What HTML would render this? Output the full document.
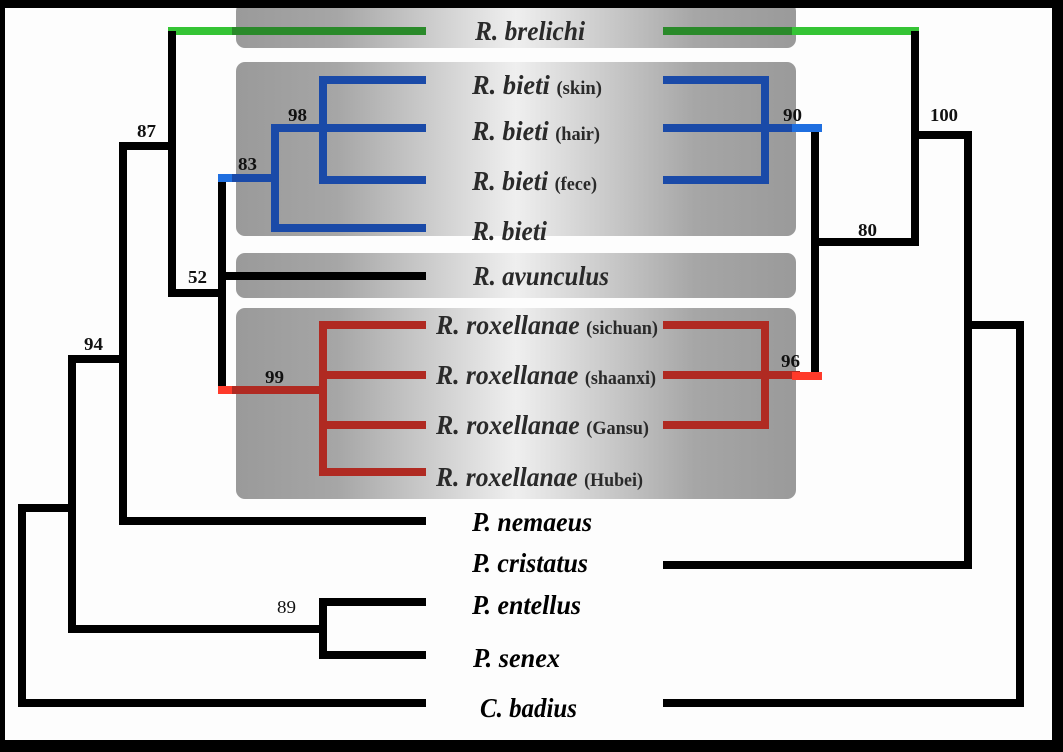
<!DOCTYPE html>
<html><head><meta charset="utf-8"><style>html,body{margin:0;padding:0;background:#000}svg{display:block}</style></head>
<body>
<svg width="1063" height="752" viewBox="0 0 1063 752" xmlns="http://www.w3.org/2000/svg">
<defs>
<linearGradient id="g" x1="236" x2="796" y1="0" y2="0" gradientUnits="userSpaceOnUse">
<stop offset="0" stop-color="#9a9a9a"/><stop offset="0.18" stop-color="#a6a6a6"/><stop offset="0.5" stop-color="#efefef"/><stop offset="0.82" stop-color="#a6a6a6"/><stop offset="1" stop-color="#9a9a9a"/>
</linearGradient>
</defs>
<rect x="5" y="8" width="1047" height="732" fill="#fdfdfd"/>
<rect x="236" y="2" width="560" height="46" rx="9" fill="url(#g)"/>
<rect x="236" y="62" width="560" height="174" rx="9" fill="url(#g)"/>
<rect x="236" y="253" width="560" height="45" rx="9" fill="url(#g)"/>
<rect x="236" y="308" width="560" height="191" rx="9" fill="url(#g)"/>

<g stroke-width="8" fill="none" stroke-linecap="square">
<path d="M172 31H236" stroke="#35c435"/>
<path d="M236 31H422" stroke="#2a8a2a"/>
<path d="M667 31H796" stroke="#2a8a2a"/>
<path d="M796 31H915" stroke="#35c435"/>
<g stroke="#000">
<path d="M172 35V293H222"/>
<path d="M222 182V386"/>
<path d="M172 146H123V521H422"/>
<path d="M123 359H72V629H323"/>
<path d="M323 602V655M323 602H422M323 655H422"/>
<path d="M72 508H22V703H422"/>
<path d="M222 276H422"/>
<path d="M815 132V372"/>
<path d="M815 242H915V35"/>
<path d="M915 135H968V565H667"/>
<path d="M968 325H1020V703H667"/>
</g>
<path d="M222 178H236" stroke="#1f6fe0"/>
<g stroke="#1a4aa8">
<path d="M236 178H275V228H422M275 128V178"/>
<path d="M275 128H323V80H422M323 128H422M323 128V180H422"/>
<path d="M667 80H765V180H667M667 128H796"/>
</g>
<path d="M796 128H818" stroke="#1f6fe0"/>
<path d="M222 390H236" stroke="#ff3a2a"/>
<g stroke="#b02a22">
<path d="M236 390H323M323 325V472M323 325H422M323 375H422M323 425H422M323 472H422"/>
<path d="M667 325H765V425H667M667 375H796"/>
</g>
<path d="M796 376H818" stroke="#ff3a2a"/>
</g>
<rect x="0" y="0" width="1063" height="8" fill="#000"/>

<g font-family="Liberation Serif, serif" font-weight="bold" fill="#111" font-size="18">
<text x="137" y="137" textLength="19" lengthAdjust="spacingAndGlyphs">87</text>
<text x="238" y="170" textLength="19" lengthAdjust="spacingAndGlyphs">83</text>
<text x="288" y="121" textLength="19" lengthAdjust="spacingAndGlyphs">98</text>
<text x="188" y="283" textLength="19" lengthAdjust="spacingAndGlyphs">52</text>
<text x="265" y="383" textLength="19" lengthAdjust="spacingAndGlyphs">99</text>
<text x="84" y="350" textLength="19" lengthAdjust="spacingAndGlyphs">94</text>
<text x="277" y="613" font-weight="normal" textLength="19" lengthAdjust="spacingAndGlyphs">89</text>
<text x="783" y="121" textLength="19" lengthAdjust="spacingAndGlyphs">90</text>
<text x="930" y="121" textLength="28" lengthAdjust="spacingAndGlyphs">100</text>
<text x="858" y="236" textLength="19" lengthAdjust="spacingAndGlyphs">80</text>
<text x="781" y="367" textLength="19" lengthAdjust="spacingAndGlyphs">96</text>
</g>

<g font-family="Liberation Serif, serif" font-weight="bold" font-style="italic" fill="#2a2a2a" font-size="27">
<text x="475" y="40" textLength="110" lengthAdjust="spacingAndGlyphs">R. brelichi</text>
<text x="472" y="94" textLength="130" lengthAdjust="spacingAndGlyphs">R. bieti <tspan font-style="normal" font-size="19">(skin)</tspan></text>
<text x="472" y="140" textLength="128" lengthAdjust="spacingAndGlyphs">R. bieti <tspan font-style="normal" font-size="19">(hair)</tspan></text>
<text x="472" y="190" textLength="125" lengthAdjust="spacingAndGlyphs">R. bieti <tspan font-style="normal" font-size="19">(fece)</tspan></text>
<text x="472" y="240" textLength="75" lengthAdjust="spacingAndGlyphs">R. bieti</text>
<text x="473" y="285" textLength="136" lengthAdjust="spacingAndGlyphs">R. avunculus</text>
<text x="436" y="334" textLength="222" lengthAdjust="spacingAndGlyphs">R. roxellanae <tspan font-style="normal" font-size="19">(sichuan)</tspan></text>
<text x="436" y="384" textLength="220" lengthAdjust="spacingAndGlyphs">R. roxellanae <tspan font-style="normal" font-size="19">(shaanxi)</tspan></text>
<text x="436" y="434" textLength="213" lengthAdjust="spacingAndGlyphs">R. roxellanae <tspan font-style="normal" font-size="19">(Gansu)</tspan></text>
<text x="436" y="486" textLength="207" lengthAdjust="spacingAndGlyphs">R. roxellanae <tspan font-style="normal" font-size="19">(Hubei)</tspan></text>
</g>
<g font-family="Liberation Serif, serif" font-weight="bold" font-style="italic" fill="#000" font-size="27">
<text x="472" y="531" textLength="120" lengthAdjust="spacingAndGlyphs">P. nemaeus</text>
<text x="472" y="572" textLength="116" lengthAdjust="spacingAndGlyphs">P. cristatus</text>
<text x="472" y="614" textLength="109" lengthAdjust="spacingAndGlyphs">P. entellus</text>
<text x="473" y="667" textLength="87" lengthAdjust="spacingAndGlyphs">P. senex</text>
<text x="480" y="717" textLength="97" lengthAdjust="spacingAndGlyphs">C. badius</text>
</g>
</svg>
</body></html>
